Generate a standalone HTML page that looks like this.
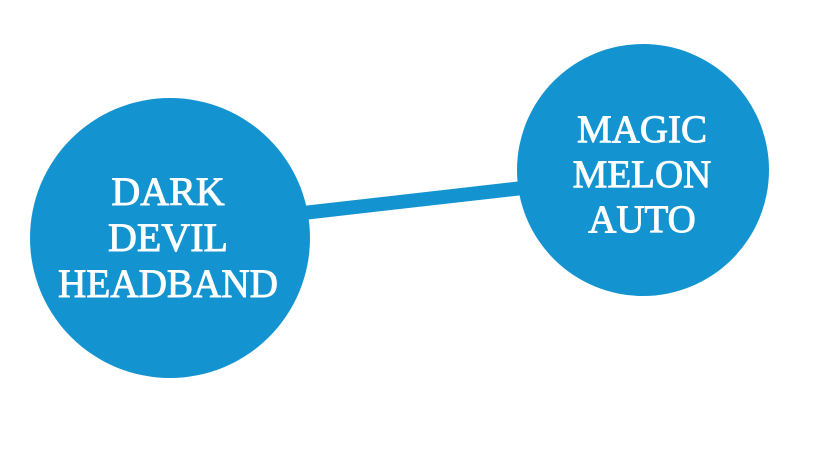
<!DOCTYPE html>
<html>
<head>
<meta charset="utf-8">
<style>
  html, body { margin: 0; padding: 0; background: #ffffff; }
  body { width: 826px; height: 466px; overflow: hidden; }
  svg { display: block; }
  text { font-family: "Liberation Serif", "DejaVu Serif", serif; fill: #ffffff; stroke: #ffffff; stroke-width: 0.9; }
</style>
</head>
<body>
<svg width="826" height="466" viewBox="0 0 826 466" xmlns="http://www.w3.org/2000/svg">
  <rect width="826" height="466" fill="#ffffff"/>
  <line x1="290" y1="214.5" x2="540" y2="186" stroke="#1394d0" stroke-width="14"/>
  <circle cx="170" cy="238" r="140" fill="#1394d0"/>
  <circle cx="643" cy="170" r="126" fill="#1394d0"/>
  <g font-size="40" text-anchor="middle">
    <text x="168" y="205">DARK</text>
    <text x="168" y="251">DEVIL</text>
    <text x="168" y="297" textLength="220" lengthAdjust="spacingAndGlyphs">HEADBAND</text>
  </g>
  <g font-size="39" text-anchor="middle">
    <text x="642" y="142">MAGIC</text>
    <text x="642" y="187">MELON</text>
    <text x="642" y="232">AUTO</text>
  </g>
</svg>
</body>
</html>
